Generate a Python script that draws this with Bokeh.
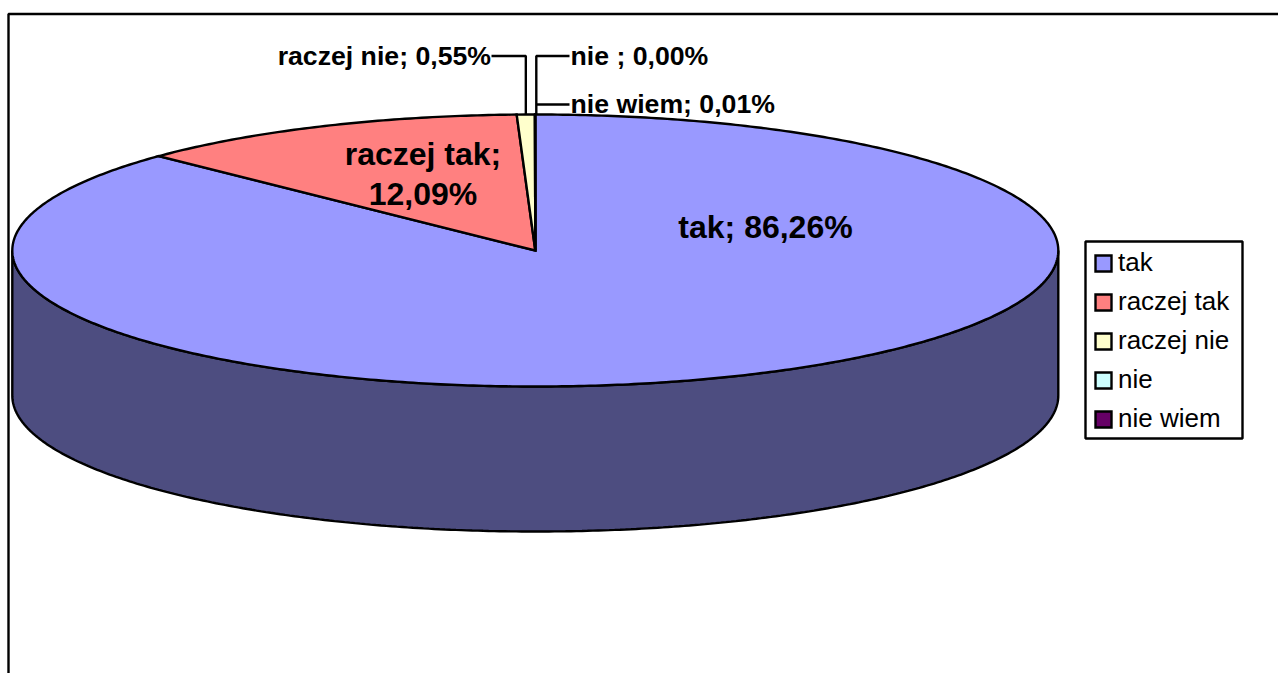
import numpy as np
from bokeh.core.properties import value
from bokeh.embed import file_html
from bokeh.models import Legend, LegendItem
from bokeh.plotting import figure
from bokeh.resources import INLINE

categories = ["tak", "raczej tak", "raczej nie", "nie ", "nie wiem"]
shares = [86.26, 12.09, 0.55, 0.00, 0.01]
colors = ["#9999FF", "#FF8080", "#FFFFCC", "#CCFFFF", "#660066"]
side_color = "#4D4D80"

W, H = 1278, 673
CX, CY, RX, RY, DEPTH = 534.8, 250.0, 523.0, 136.0, 145.0
LW = 2.4
FONT = value("Liberation Sans")

p = figure(width=W, height=H, x_range=(0, W), y_range=(H, 0),
           output_backend="svg", toolbar_location=None, min_border=0,
           background_fill_color="white", outline_line_color=None)
p.axis.visible = False
p.grid.visible = False


def ex(t):
    return CX + RX * np.sin(t)


def ey(t):
    return CY - RY * np.cos(t)


# chart frame
p.line([W, 8, 8], [13.5, 13.5, H], line_color="black", line_width=LW)

# side wall of the disc
t = np.linspace(np.pi / 2, 3 * np.pi / 2, 300)
p.patch(np.r_[ex(t), ex(t)[::-1]], np.r_[ey(t), ey(t)[::-1] + DEPTH],
        fill_color=side_color, line_color="black", line_width=LW)

# slices, normalised by the total of the values, clockwise from 12 o'clock
total = sum(shares)
edges = np.r_[0, np.cumsum(shares)] / total * 2 * np.pi
renderers = []
for i, name in enumerate(categories):
    t = np.linspace(edges[i], edges[i + 1], max(2, int(shares[i] * 6)))
    r = p.patch(np.r_[CX, ex(t), CX], np.r_[CY, ey(t), CY], fill_color=colors[i],
                line_color="black", line_width=LW, line_join="miter")
    renderers.append(r)

# leader lines follow the middle of each small slice
mid = (edges[:-1] + edges[1:]) / 2
LABEL_Y, LOW_Y = 55.5, 104
p.line([491, ex(mid[2]), ex(mid[2])], [LABEL_Y, LABEL_Y, ey(mid[2])], line_color="black", line_width=LW)
p.line([569, CX + 1, CX + 1], [LABEL_Y, LABEL_Y, ey(0)], line_color="black", line_width=LW)
p.line([569, CX + 1], [LOW_Y, LOW_Y], line_color="black", line_width=LW)


def fmt(v):
    return f"{v:.2f}%".replace(".", ",")


labels = [
    dict(x=[765], y=[226.5], text=[f"{categories[0]}; {fmt(shares[0])}"], size="32px", align="center"),
    dict(x=[422.5], y=[173.5], text=[f"{categories[1]};\n{fmt(shares[1])}"], size="32px", align="center"),
    dict(x=[490.5], y=[LABEL_Y], text=[f"{categories[2]}; {fmt(shares[2])}"], size="26.67px", align="right"),
    dict(x=[570], y=[LABEL_Y], text=[f"{categories[3]}; {fmt(shares[3])}"], size="26.67px", align="left"),
    dict(x=[570], y=[LOW_Y - 0.5], text=[f"{categories[4]}; {fmt(shares[4])}"], size="26.67px", align="left"),
]
for lab in labels:
    p.text(x=lab["x"], y=lab["y"], text=lab["text"], text_font=FONT, text_font_style="bold",
           text_font_size=lab["size"], text_align=lab["align"], text_baseline="middle",
           text_color="black", text_line_height=1.09)

# legend frame
p.quad(left=[1085], right=[1242], top=[241], bottom=[438], fill_color="white",
       line_color="black", line_width=LW)

legend = Legend(
    items=[LegendItem(label=n.strip(), renderers=[r]) for n, r in zip(categories, renderers)],
    location=(1093, 239), orientation="vertical", margin=0, padding=0, spacing=8,
    glyph_width=20, glyph_height=20, label_standoff=5,
    label_text_font="Liberation Sans", label_text_font_size="26px", label_text_color="black",
    border_line_color=None, background_fill_color=None,
)
p.add_layout(legend, "center")

open("out.html", "w").write(file_html(p, INLINE))
